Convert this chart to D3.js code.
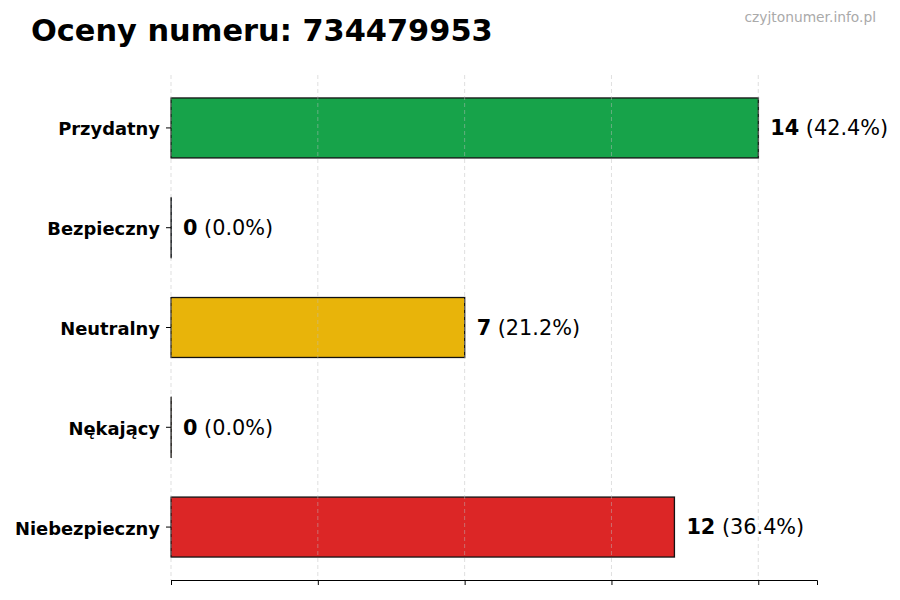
<!DOCTYPE html>
<html>
<head>
<meta charset="utf-8">
<script src="https://cdn.jsdelivr.net/npm/d3@7"></script>
<style>
  body { margin: 0; background: #fff; }
  text { font-family: "DejaVu Sans", sans-serif; }
</style>
</head>
<body>
<div class="rating-chart"></div>
<script>
// data
var categories = ["Przydatny", "Bezpieczny", "Neutralny", "Nękający", "Niebezpieczny"];
var counts = [14, 0, 7, 0, 12];
var percents = ["42.4%", "0.0%", "21.2%", "0.0%", "36.4%"];
var colors = ["#17a34a", "#2b7bd8", "#e8b40a", "#f07c1e", "#dc2626"];
var tickValues = [0, 3.5, 7, 10.5, 14];

var margin = {top: 75, right: 83, bottom: 20, left: 171},
    width = 900 - margin.left - margin.right,
    height = 600 - margin.top - margin.bottom;

var svg = d3.select(".rating-chart").append("svg")
    .attr("width", 900)
    .attr("height", 600);

// title + watermark
svg.append("text")
    .attr("x", 31)
    .attr("y", 41)
    .style("font-size", "30.4px")
    .style("font-weight", "bold")
    .text("Oceny numeru: 734479953");
svg.append("text")
    .attr("x", 876)
    .attr("y", 22)
    .style("text-anchor", "end")
    .style("font-size", "13.8px")
    .style("fill", "#aaa")
    .text("czyjtonumer.info.pl");

var g = svg.append("g")
    .attr("transform", `translate(${margin.left}, ${margin.top})`);

// scales
var x = d3.scaleLinear().domain([0, 14 * 1.1]).range([0, width]);
var y = d3.scaleBand().domain(categories).range([23, 482]).paddingInner(0.4).paddingOuter(0);

var data = categories.map(function(c, i) {
    return {cat: c, n: counts[i], pct: percents[i], color: colors[i]};
});

// shadow
g.selectAll(".shadow")
    .data(data)
    .enter().append("rect")
    .attr("x", 0)
    .attr("y", function(d) { return y(d.cat) - 1; })
    .attr("width", function(d) { return x(d.n) + 1; })
    .attr("height", y.bandwidth() + 2)
    .style("fill", "#ccc");

// bars (zero bars still show their edge line)
g.selectAll(".bar")
    .data(data)
    .enter().append("rect")
    .attr("class", "bar")
    .attr("x", 0)
    .attr("y", function(d) { return y(d.cat); })
    .attr("width", function(d) { return Math.max(x(d.n), 0.2); })
    .attr("height", y.bandwidth())
    .style("fill", function(d) { return d.color; })
    .style("stroke", "#111")
    .style("stroke-width", 1.2);

// grid on top, faint dashed
g.selectAll(".grid")
    .data(tickValues)
    .enter().append("line")
    .attr("x1", function(d) { return x(d); })
    .attr("x2", function(d) { return x(d); })
    .attr("y1", 0)
    .attr("y2", height)
    .style("stroke", "#bbb")
    .style("stroke-opacity", 0.6)
    .style("stroke-dasharray", "4,3")
    .style("stroke-width", 0.8);

// value labels
var labels = g.selectAll(".val")
    .data(data)
    .enter().append("text")
    .attr("x", function(d) { return x(d.n) + 12; })
    .attr("y", function(d) { return y(d.cat) + y.bandwidth() / 2; })
    .attr("dy", "0.35em")
    .style("font-size", "20.8px");
labels.append("tspan")
    .style("font-weight", "bold")
    .text(function(d) { return d.n; });
labels.append("tspan")
    .text(function(d) { return " (" + d.pct + ")"; });

// x axis
var xAxis = g.append("g")
    .attr("transform", `translate(0, ${height})`)
    .call(d3.axisBottom(x).tickValues(tickValues).tickFormat("").tickSizeOuter(0).tickSize(5));
xAxis.select(".domain").style("stroke", "#000");

// y axis
var yAxis = g.append("g")
    .call(d3.axisLeft(y).tickSize(5).tickPadding(6));
yAxis.select(".domain").remove();
yAxis.selectAll("text")
    .attr("dy", "0.42em")
    .style("font-size", "17.9px")
    .style("font-weight", "bold")
    .style("font-family", "DejaVu Sans, sans-serif")
    .style("fill", "#000");
</script>
</body>
</html>
